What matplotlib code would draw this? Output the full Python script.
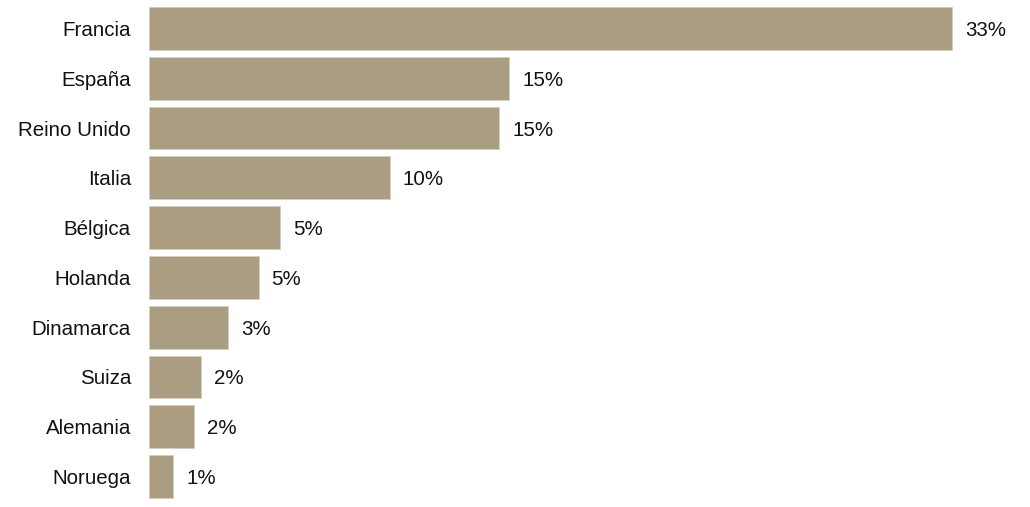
import matplotlib
matplotlib.use('Agg')
import matplotlib.pyplot as plt

plt.rcParams['font.family'] = ['Liberation Sans', 'DejaVu Sans']

paises = ['Francia', 'España', 'Reino Unido', 'Italia', 'Bélgica',
          'Holanda', 'Dinamarca', 'Suiza', 'Alemania', 'Noruega']
valores = [33, 14.8, 14.4, 9.9, 5.4, 4.5, 3.25, 2.15, 1.85, 1.0]
etiquetas = ['33%', '15%', '15%', '10%', '5%', '5%', '3%', '2%', '2%', '1%']

W, H = 1030, 507
fig = plt.figure(figsize=(W / 100, H / 100), dpi=100)
ax = fig.add_axes([149 / W, 0, (W - 149) / W, 1])

px_por_unidad = (952 - 149) / 33
pitch = (476.5 - 28.5) / 9

pos = list(range(len(paises)))
ax.barh(pos, valores, height=0.86, color='#ab9d82', edgecolor='#d6cfc0', linewidth=0.6)

for y, v, t in zip(pos, valores, etiquetas):
    ax.text(v + 13 / px_por_unidad, y, t, va='center_baseline', ha='left',
            fontsize=14.8, color='#111111')

ax.set_xlim(0, (W - 149) / px_por_unidad)
ax.set_ylim(9 + (H - 476.5) / pitch, -28.5 / pitch)
ax.set_yticks(pos)
ax.set_yticklabels(paises, fontsize=14.8, color='#111111')
ax.tick_params(axis='y', length=0, pad=13)
ax.set_xticks([])
for s in ax.spines.values():
    s.set_visible(False)

fig.savefig('out.png', dpi=100, facecolor='white')
